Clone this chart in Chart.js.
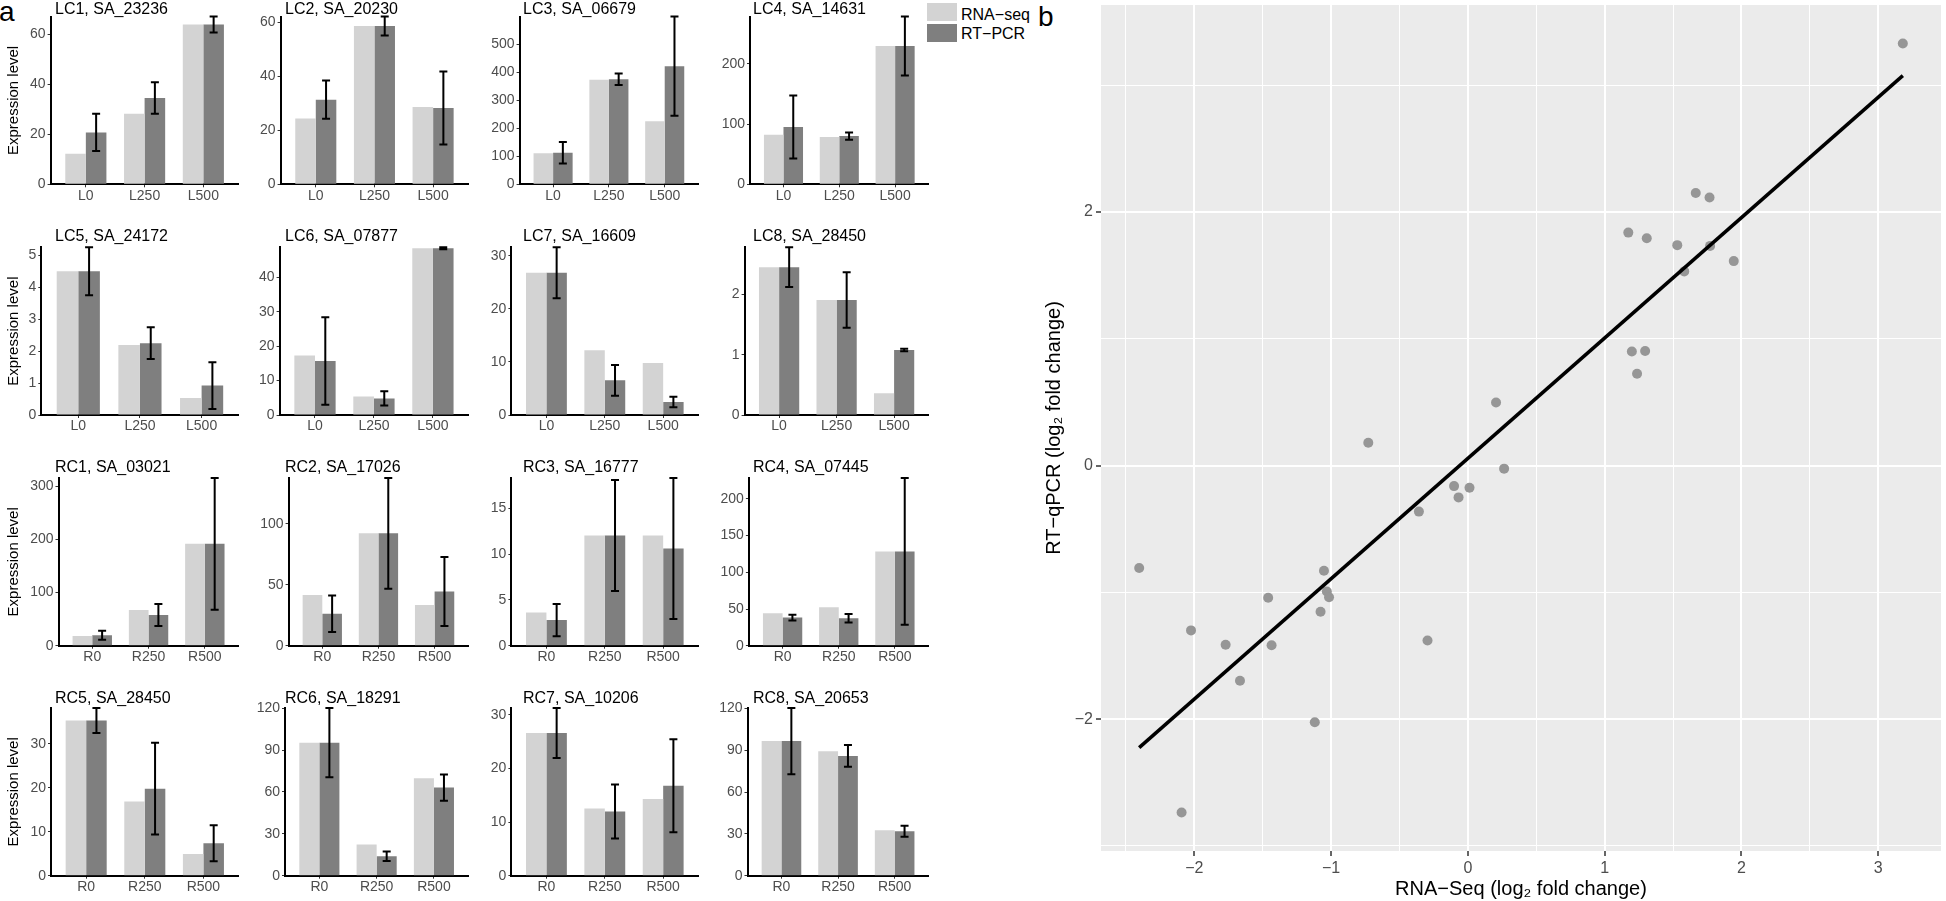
<!DOCTYPE html>
<html lang="en">
<head>
  <meta charset="UTF-8" />
  <title>RNA-seq vs RT-qPCR validation</title>
  <script src="https://cdn.jsdelivr.net/npm/chart.js"></script>
  <style>
    body {
      margin: 0;
      width: 1946px;
      height: 901px;
      position: relative;
      overflow: hidden;
      background: #fff;
      font-family: 'Liberation Sans', Arial, sans-serif;
      color: #000;
    }
    canvas { position: absolute; }
    .txt { position: absolute; line-height: 1; white-space: nowrap; }
    .swatch { position: absolute; width: 30px; height: 18px; }
  </style>
</head>
<body>
  <div class="txt" style="left:-1px; top:-2px; font-size:28px;">a</div>
  <div class="txt" style="left:1038px; top:3px; font-size:28px;">b</div>

  <div class="swatch" style="left:927px; top:3px; background:#d3d3d3;"></div>
  <div class="swatch" style="left:927px; top:24px; background:#7f7f7f;"></div>
  <div class="txt" style="left:961px; top:6.5px; font-size:16px;">RNA−seq</div>
  <div class="txt" style="left:961px; top:25.8px; font-size:16px;">RT−PCR</div>

  <div class="txt" style="left:1230px; top:43px; font-size:19px;">R² = 0.88, <i>P</i> &lt; 1E-10</div>

  <script>
    // ---- panel a: expression levels ----
    const lcGroups = ['L0', 'L250', 'L500'];
    const rcGroups = ['R0', 'R250', 'R500'];
    const panelTitles = [
      'LC1, SA_23236', 'LC2, SA_20230', 'LC3, SA_06679', 'LC4, SA_14631',
      'LC5, SA_24172', 'LC6, SA_07877', 'LC7, SA_16609', 'LC8, SA_28450',
      'RC1, SA_03021', 'RC2, SA_17026', 'RC3, SA_16777', 'RC4, SA_07445',
      'RC5, SA_28450', 'RC6, SA_18291', 'RC7, SA_10206', 'RC8, SA_20653'
    ];
    const rnaSeq = [
      [12.2, 28.3, 64.0], [24.3, 58.5, 28.6], [110.6, 373.8, 224.8], [82.2, 78.3, 229.4],
      [4.50, 2.19, 0.53], [17.25, 5.4, 48.4], [26.8, 12.2, 9.8], [2.456, 1.91, 0.36],
      [18.2, 67.3, 191.8], [41.5, 92.1, 33.3], [3.64, 12.05, 12.05], [44.2, 52.4, 128.5],
      [35.3, 16.9, 4.94], [95.3, 22.3, 69.8], [26.6, 12.5, 14.27], [96.5, 89.3, 32.6]
    ];
    const rtPcr = [
      [20.8, 34.6, 64.0], [31.3, 58.5, 28.2], [113, 375, 422], [95, 80, 229.4],
      [4.50, 2.25, 0.92], [15.7, 4.8, 48.4], [26.8, 6.54, 2.45], [2.456, 1.91, 1.08],
      [19.5, 57.9, 191.8], [26.2, 92.1, 44.5], [2.80, 12.05, 10.63], [38.3, 37.4, 128.5],
      [35.3, 19.8, 7.37], [95.3, 13.9, 63.1], [26.6, 11.96, 16.76], [96.5, 85.9, 31.9]
    ];
    const rtPcrSd = [
      [7.5, 6.3, 3.2], [7.1, 3.5, 13.5], [38.5, 20.5, 177], [52.2, 6.1, 48.8],
      [0.75, 0.5, 0.73], [12.7, 2.07, 0.3], [4.8, 2.9, 1.0], [0.33, 0.46, 0.02],
      [8.5, 20.8, 124], [14.9, 45.4, 28.3], [1.77, 6.06, 7.7], [3.9, 5.7, 100],
      [2.85, 10.45, 4.1], [24.8, 3.35, 9.35], [4.65, 5.05, 8.65], [23.75, 7.8, 3.95]
    ];
    const yStep = [20, 20, 100, 100, 1, 10, 10, 1, 100, 50, 5, 50, 10, 30, 10, 30];

    // ---- panel b: log2 fold changes ----
    const rnaSeqLog2 = [
      3.18, 1.666, 1.767, 1.173, 1.308, 1.531, 1.771, 1.944, 1.582, 1.199, 1.296,
      1.237, 0.206, -0.728, 0.265, -0.101, 0.012, -0.068, -0.358, -2.403, -1.052,
      -1.031, -1.015, -1.46, -1.077, -2.024, -1.771, -1.435, -0.295, -1.666, -1.119, -2.093
    ];
    const rtqpcrLog2 = [
      3.33, 2.15, 2.115, 1.838, 1.793, 1.739, 1.733, 1.613, 1.532, 0.90, 0.904,
      0.724, 0.497, 0.18, -0.024, -0.162, -0.175, -0.251, -0.363, -0.808, -0.829,
      -0.993, -1.038, -1.043, -1.153, -1.30, -1.414, -1.417, -1.38, -1.697, -2.024, -2.737
    ];
    const xTickLabels = [-2, -1, 0, 1, 2, 3];
    const yTickLabels = [-2, 0, 2];

    // layout of the small panels (px)
    const colStart = [0, 240, 470, 700];
    const plotRight = [238.6, 468.3, 698.2, 928.6];
    const axisY = [184.3, 415, 645.7, 875.7];
    const titleTop = [1.3, 228.2, 458.8, 689.8];
    const titleLeft = [55, 285, 523, 753];
    const plotH = 167.7;
    const plotLeft = [
      50.6, 280.6, 519.6, 750,
      41.3, 279.6, 511.4, 744.6,
      58.5, 288.6, 511.4, 748.9,
      51, 285, 511.4, 747.5
    ];

    Chart.defaults.font.family = "'Liberation Sans', Arial, sans-serif";
    Chart.defaults.animation = false;

    const errorBars = {
      id: 'errorBars',
      afterDatasetsDraw(chart) {
        const ctx = chart.ctx;
        const y = chart.scales.y;
        chart.data.datasets.forEach((ds, i) => {
          if (!ds.sd) return;
          const meta = chart.getDatasetMeta(i);
          ctx.save();
          ctx.strokeStyle = '#000';
          ctx.lineWidth = 2;
          meta.data.forEach((bar, j) => {
            const v = ds.data[j].y;
            const top = y.getPixelForValue(v + ds.sd[j]);
            const bot = y.getPixelForValue(v - ds.sd[j]);
            ctx.beginPath();
            ctx.moveTo(bar.x, top); ctx.lineTo(bar.x, bot);
            ctx.moveTo(bar.x - 4, top); ctx.lineTo(bar.x + 4, top);
            ctx.moveTo(bar.x - 4, bot); ctx.lineTo(bar.x + 4, bot);
            ctx.stroke();
          });
          ctx.restore();
        });
      }
    };

    function addText(text, left, top, size) {
      const d = document.createElement('div');
      d.className = 'txt';
      d.textContent = text;
      d.style.left = left + 'px';
      d.style.top = top + 'px';
      d.style.fontSize = size + 'px';
      document.body.appendChild(d);
    }

    function barPanel(i) {
      const r = Math.floor(i / 4), c = i % 4;
      const groups = i < 8 ? lcGroups : rcGroups;
      const left = colStart[c];
      const top = Math.floor(axisY[r] - plotH - 12);
      const w = Math.ceil(plotRight[c] + 6 - left);
      const h = Math.ceil(axisY[r] + 24 - top);

      const cv = document.createElement('canvas');
      cv.width = w; cv.height = h;
      cv.style.left = left + 'px';
      cv.style.top = top + 'px';
      cv.style.width = w + 'px';
      cv.style.height = h + 'px';
      document.body.appendChild(cv);
      addText(panelTitles[i], titleLeft[c], titleTop[r], 16);

      const yMax = Math.max(...rnaSeq[i], ...rtPcr[i].map((v, j) => v + rtPcrSd[i][j]));

      new Chart(cv, {
        type: 'bar',
        data: {
          datasets: [
            {
              label: 'RNA−seq',
              data: rnaSeq[i].map((v, j) => ({ x: j + 1, y: v })),
              backgroundColor: '#d3d3d3',
              borderWidth: 0,
              categoryPercentage: 0.7,
              barPercentage: 1
            },
            {
              label: 'RT−PCR',
              data: rtPcr[i].map((v, j) => ({ x: j + 1, y: v })),
              sd: rtPcrSd[i],
              backgroundColor: '#7f7f7f',
              borderWidth: 0,
              categoryPercentage: 0.7,
              barPercentage: 1
            }
          ]
        },
        options: {
          responsive: false,
          devicePixelRatio: 1,
          animation: false,
          layout: {
            padding: { left: 0, bottom: 0, top: axisY[r] - plotH - top, right: w - (plotRight[c] - left) }
          },
          plugins: { legend: { display: false }, tooltip: { enabled: false } },
          scales: {
            x: {
              type: 'linear',
              min: 0.4,
              max: 3.6,
              offset: false,
              grid: { offset: false, drawOnChartArea: false, tickLength: 3, color: '#333' },
              border: { color: '#000', width: 2 },
              afterBuildTicks: s => { s.ticks = groups.map((g, j) => ({ value: j + 1 })); },
              afterFit: s => { s.height = h - (axisY[r] - top); s.paddingLeft = 0; s.paddingRight = 0; },
              ticks: {
                autoSkip: false, maxRotation: 0, padding: 0, color: '#4d4d4d',
                font: { size: 14 },
                callback: v => groups[v - 1]
              }
            },
            y: {
              min: 0,
              max: yMax,
              grid: { drawOnChartArea: false, tickLength: 3, color: '#333' },
              border: { color: '#000', width: 2 },
              afterBuildTicks: s => {
                const t = [];
                for (let k = 0; k * yStep[i] <= s.max; k++) t.push({ value: k * yStep[i] });
                s.ticks = t;
              },
              afterFit: s => { s.width = plotLeft[i] - left; s.paddingTop = 0; s.paddingBottom = 0; },
              ticks: {
                autoSkip: false, padding: 2, color: '#4d4d4d',
                font: { size: 14 },
                callback: v => String(v)
              },
              title: {
                display: c === 0, text: 'Expression level', color: '#000',
                font: { size: 15 }, padding: { top: 5, bottom: 0 }
              }
            }
          }
        },
        plugins: [errorBars]
      });
    }

    for (let i = 0; i < 16; i++) barPanel(i);

    // ---- scatter with least squares line ----
    const pts = rnaSeqLog2.map((x, i) => ({ x: x, y: rtqpcrLog2[i] }));
    const n = pts.length;
    const mx = rnaSeqLog2.reduce((a, b) => a + b, 0) / n;
    const my = rtqpcrLog2.reduce((a, b) => a + b, 0) / n;
    let sxx = 0, sxy = 0;
    pts.forEach(p => { sxx += (p.x - mx) * (p.x - mx); sxy += (p.x - mx) * (p.y - my); });
    const slope = sxy / sxx;
    const icept = my - slope * mx;
    const xLo = Math.min(...rnaSeqLog2), xHi = Math.max(...rnaSeqLog2);
    const yLo = Math.min(...rtqpcrLog2), yHi = Math.max(...rtqpcrLog2);
    const fitLine = [{ x: xLo, y: icept + slope * xLo }, { x: xHi, y: icept + slope * xHi }];
    const xPad = (xHi - xLo) * 0.05, yPad = (yHi - yLo) * 0.05;

    const fmt = v => (v < 0 ? '\u2212' : '') + Math.abs(v);

    const panelBg = {
      id: 'panelBg',
      beforeDraw(chart) {
        const { ctx, chartArea: a } = chart;
        ctx.save();
        ctx.fillStyle = '#ebebeb';
        ctx.fillRect(a.left, a.top, a.width, a.height);
        ctx.restore();
      }
    };

    const sc = document.createElement('canvas');
    sc.width = 906; sc.height = 901;
    sc.style.left = '1040px';
    sc.style.top = '0px';
    sc.style.width = '906px';
    sc.style.height = '901px';
    document.body.appendChild(sc);

    const isMajorX = v => Number.isInteger(v);
    const isMajorY = v => Number.isInteger(v) && v % 2 === 0;

    new Chart(sc, {
      type: 'scatter',
      data: {
        datasets: [
          {
            data: fitLine, showLine: true, borderColor: '#000', borderWidth: 3.5,
            pointRadius: 0, order: 0
          },
          {
            data: pts, pointRadius: 5, pointBackgroundColor: '#969696',
            pointBorderWidth: 0, order: 1
          }
        ]
      },
      options: {
        responsive: false,
        devicePixelRatio: 1,
        animation: false,
        layout: { padding: 0 },
        plugins: { legend: { display: false }, tooltip: { enabled: false } },
        scales: {
          x: {
            type: 'linear',
            min: xLo - xPad,
            max: xHi + xPad,
            border: { display: false },
            grid: {
              color: '#fff',
              lineWidth: ctx => (ctx.tick && isMajorX(ctx.tick.value) ? 2 : 1),
              tickColor: ctx => (ctx.tick && isMajorX(ctx.tick.value) ? '#333' : 'rgba(0,0,0,0)'),
              tickWidth: 1.5,
              tickLength: 5
            },
            afterBuildTicks: s => {
              const t = [];
              for (let v = Math.ceil(s.min * 2) / 2; v <= s.max; v += 0.5) t.push({ value: v });
              s.ticks = t;
            },
            afterFit: s => { s.height = 50; s.paddingLeft = 0; s.paddingRight = 0; },
            ticks: {
              autoSkip: false, maxRotation: 0, padding: 3, color: '#4d4d4d',
              font: { size: 16 },
              callback: v => (xTickLabels.includes(v) ? fmt(v) : '')
            },
            title: {
              display: true, text: 'RNA−Seq (log₂ fold change)', color: '#000',
              font: { size: 20 }, padding: { top: 0, bottom: 0 }
            }
          },
          y: {
            min: yLo - yPad,
            max: yHi + yPad,
            border: { display: false },
            grid: {
              color: '#fff',
              lineWidth: ctx => (ctx.tick && isMajorY(ctx.tick.value) ? 2 : 1),
              tickColor: ctx => (ctx.tick && isMajorY(ctx.tick.value) ? '#333' : 'rgba(0,0,0,0)'),
              tickWidth: 1.5,
              tickLength: 5
            },
            afterBuildTicks: s => {
              const t = [];
              for (let v = Math.ceil(s.min); v <= s.max; v += 1) t.push({ value: v });
              s.ticks = t;
            },
            afterFit: s => { s.width = 61; s.paddingTop = 0; s.paddingBottom = 0; },
            ticks: {
              padding: 3, color: '#4d4d4d', font: { size: 16 },
              callback: v => (yTickLabels.includes(v) ? fmt(v) : '')
            },
            title: {
              display: true, text: 'RT−qPCR (log₂ fold change)', color: '#000',
              font: { size: 20 }, padding: { top: 2, bottom: 0 }
            }
          }
        }
      },
      plugins: [panelBg]
    });
  </script>
</body>
</html>
